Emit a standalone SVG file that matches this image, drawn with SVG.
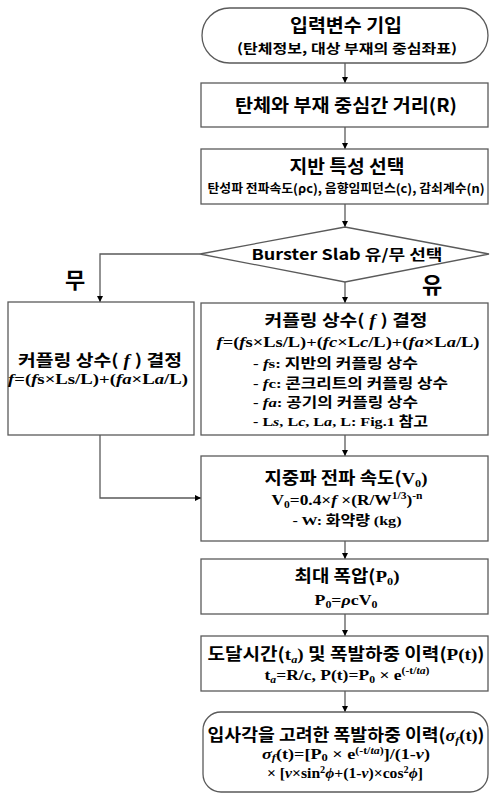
<svg xmlns="http://www.w3.org/2000/svg" width="491" height="796" viewBox="0 0 491 796">
<defs>
<style>
.box{fill:#fff;stroke:#5a5a5a;stroke-width:1.3}
.ln{fill:none;stroke:#5a5a5a;stroke-width:1.3}
.k{font-family:"Noto Sans CJK KR","Malgun Gothic",sans-serif;font-weight:bold;fill:#000}
.s{font-family:"Liberation Serif","Times New Roman",serif;font-weight:bold}
.i{font-style:italic}
.c{text-anchor:middle}
</style>
<marker id="ah" viewBox="0 0 10 10" refX="10" refY="5" markerWidth="6" markerHeight="6" orient="auto" markerUnits="userSpaceOnUse">
<path d="M0,0 L10,5 L0,10 Z" fill="#000"/>
</marker>
</defs>
<rect width="491" height="796" fill="#fff"/>

<g id="connectors">
<path class="ln" d="M345,63 V83" marker-end="url(#ah)"/>
<path class="ln" d="M345,127 V149" marker-end="url(#ah)"/>
<path class="ln" d="M345,204 V227" marker-end="url(#ah)"/>
<path class="ln" d="M200,254 H100 V302" marker-end="url(#ah)"/>
<path class="ln" d="M345,282 V303" marker-end="url(#ah)"/>
<path class="ln" d="M100,435 V498 H201" marker-end="url(#ah)"/>
<path class="ln" d="M345,435 V456" marker-end="url(#ah)"/>
<path class="ln" d="M345,541 V559" marker-end="url(#ah)"/>
<path class="ln" d="M345,614 V636" marker-end="url(#ah)"/>
<path class="ln" d="M345,691 V712" marker-end="url(#ah)"/>
<text class="k c" x="75" y="288" font-size="22">무</text>
<text class="k c" x="432" y="293" font-size="22">유</text>
</g>

<g id="start">
<rect class="box" x="202" y="8" width="286" height="55" rx="27.5"/>
<text class="k c" x="346" y="32" font-size="18" textLength="112" lengthAdjust="spacingAndGlyphs">입력변수 기입</text>
<text class="k c" x="347" y="53" font-size="13" textLength="220" lengthAdjust="spacingAndGlyphs">(탄체정보, 대상 부재의 중심좌표)</text>
</g>

<g id="distance">
<rect class="box" x="201" y="83" width="287" height="44"/>
<text class="k c" x="346" y="112" font-size="18" textLength="222" lengthAdjust="spacingAndGlyphs">탄체와 부재 중심간 거리(R)</text>
</g>

<g id="ground">
<rect class="box" x="201" y="149" width="287" height="55"/>
<text class="k c" x="347" y="173" font-size="18" textLength="115" lengthAdjust="spacingAndGlyphs">지반 특성 선택</text>
<text class="k c" x="346" y="193" font-size="12.5" textLength="277" lengthAdjust="spacingAndGlyphs">탄성파 전파속도(ρc), 음향임피던스(c), 감쇠계수(n)</text>
</g>

<g id="decision">
<polygon class="box" points="200,254 345,227 489,254 345,282"/>
<text class="k c" x="347" y="260" font-size="15" textLength="191" lengthAdjust="spacingAndGlyphs">Burster Slab 유/무 선택</text>
</g>

<g id="coupling-no">
<rect class="box" x="8" y="302" width="186" height="133"/>
<text class="k c" x="100" y="366" font-size="16" textLength="164" lengthAdjust="spacingAndGlyphs">커플링 상수(<tspan class="s i"> f </tspan>) 결정</text>
<text class="s c" x="98" y="384" font-size="15" textLength="180" lengthAdjust="spacingAndGlyphs"><tspan class="i">f</tspan>=(<tspan class="i">f</tspan>s×Ls/L)+(<tspan class="i">fa</tspan>×L<tspan class="i">a</tspan>/L)</text>
</g>

<g id="coupling-yes">
<rect class="box" x="201" y="303" width="287" height="132"/>
<text class="k c" x="346" y="326" font-size="16" textLength="163" lengthAdjust="spacingAndGlyphs">커플링 상수(<tspan class="s i"> f </tspan>) 결정</text>
<text class="s c" x="348" y="347" font-size="15" textLength="263" lengthAdjust="spacingAndGlyphs"><tspan class="i">f</tspan>=(<tspan class="i">f</tspan>s×Ls/L)+(<tspan class="i">fc</tspan>×L<tspan class="i">c</tspan>/L)+(<tspan class="i">fa</tspan>×L<tspan class="i">a</tspan>/L)</text>
<text class="k" x="253" y="368" font-size="13.5" textLength="165" lengthAdjust="spacingAndGlyphs"><tspan class="s">- <tspan class="i">f</tspan>s:</tspan> 지반의 커플링 상수</text>
<text class="k" x="253" y="388" font-size="13.5" textLength="195" lengthAdjust="spacingAndGlyphs"><tspan class="s">- <tspan class="i">f</tspan>c:</tspan> 콘크리트의 커플링 상수</text>
<text class="k" x="253" y="407" font-size="13.5" textLength="165" lengthAdjust="spacingAndGlyphs"><tspan class="s">- <tspan class="i">fa</tspan>:</tspan> 공기의 커플링 상수</text>
<text class="k" x="253" y="426" font-size="13.5" textLength="175" lengthAdjust="spacingAndGlyphs"><tspan class="s">- L<tspan class="i">s</tspan>, L<tspan class="i">c</tspan>, L<tspan class="i">a</tspan>, L: Fig.1</tspan> 참고</text>
</g>

<g id="velocity">
<rect class="box" x="201" y="456" width="287" height="85"/>
<text class="k c" x="346" y="484" font-size="17" textLength="163" lengthAdjust="spacingAndGlyphs">지중파 전파 속도(<tspan class="s">V<tspan font-size="11" dy="3">0</tspan><tspan dy="-3">)</tspan></tspan></text>
<text class="s c" x="347" y="505" font-size="15" textLength="151" lengthAdjust="spacingAndGlyphs">V<tspan font-size="10" dy="3">0</tspan><tspan dy="-3">=0.4×</tspan><tspan class="i">f</tspan> ×(R/W<tspan font-size="10" dy="-6">1/3</tspan><tspan dy="6">)</tspan><tspan font-size="10" dy="-6">-n</tspan></text>
<text class="k c" x="347" y="525" font-size="13.5" textLength="109" lengthAdjust="spacingAndGlyphs"><tspan class="s">- W:</tspan> 화약량 <tspan class="s">(kg)</tspan></text>
</g>

<g id="pressure">
<rect class="box" x="201" y="559" width="287" height="55"/>
<text class="k c" x="347" y="582" font-size="17" textLength="105" lengthAdjust="spacingAndGlyphs">최대 폭압(<tspan class="s">P<tspan font-size="11" dy="3">0</tspan><tspan dy="-3">)</tspan></tspan></text>
<text class="s c" x="346" y="605" font-size="15" textLength="63" lengthAdjust="spacingAndGlyphs">P<tspan font-size="10" dy="3">0</tspan><tspan dy="-3">=</tspan><tspan class="i">ρ</tspan>cV<tspan font-size="10" dy="3">0</tspan></text>
</g>

<g id="history">
<rect class="box" x="201" y="636" width="287" height="55"/>
<text class="k c" x="346" y="660" font-size="17" textLength="277" lengthAdjust="spacingAndGlyphs">도달시간(<tspan class="s">t<tspan class="i" font-size="11" dy="3">a</tspan><tspan dy="-3">)</tspan></tspan> 및 폭발하중 이력(<tspan class="s">P(t)</tspan>)</text>
<text class="s c" x="347" y="680" font-size="15" textLength="165" lengthAdjust="spacingAndGlyphs">t<tspan class="i" font-size="10" dy="3">a</tspan><tspan dy="-3">=R/c, P(t)=P</tspan><tspan font-size="10" dy="3">0</tspan><tspan dy="-3"> × e</tspan><tspan font-size="10" dy="-6">(-t/<tspan class="i">ta</tspan>)</tspan></text>
</g>

<g id="end">
<rect class="box" x="203" y="712" width="285" height="80" rx="18"/>
<text class="k c" x="346" y="741" font-size="17" textLength="277" lengthAdjust="spacingAndGlyphs">입사각을 고려한 폭발하중 이력(<tspan class="s"><tspan class="i">σ</tspan><tspan class="i" font-size="11" dy="3">f</tspan><tspan dy="-3">(t)</tspan></tspan>)</text>
<text class="s c" x="346" y="759" font-size="14.5" textLength="168" lengthAdjust="spacingAndGlyphs"><tspan class="i">σ</tspan><tspan class="i" font-size="10" dy="2">f</tspan><tspan dy="-2">(t)=[P</tspan><tspan font-size="10" dy="2">0</tspan><tspan dy="-2"> × e</tspan><tspan font-size="9.5" dy="-5">(-t/<tspan class="i">ta</tspan>)</tspan><tspan dy="5">]/(1-</tspan><tspan class="i">ν</tspan>)</text>
<text class="s c" x="345" y="778" font-size="14.5" textLength="156" lengthAdjust="spacingAndGlyphs">× [<tspan class="i">ν</tspan>×sin<tspan font-size="9.5" dy="-5">2</tspan><tspan class="i" dy="5">ϕ</tspan>+(1-<tspan class="i">ν</tspan>)×cos<tspan font-size="9.5" dy="-5">2</tspan><tspan class="i" dy="5">ϕ</tspan>]</text>
</g>
</svg>
